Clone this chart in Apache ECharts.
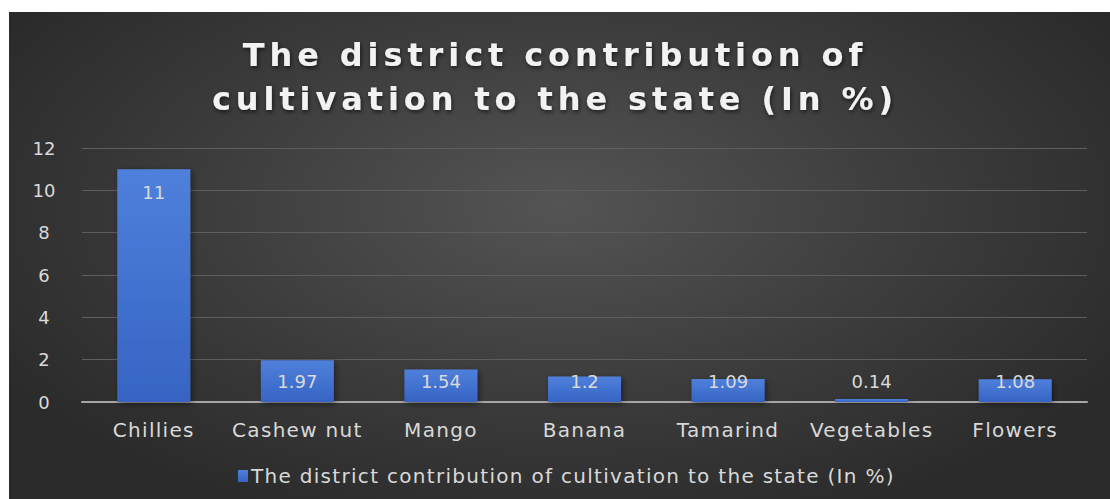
<!DOCTYPE html>
<html>
<head>
<meta charset="utf-8">
<script src="https://cdn.jsdelivr.net/npm/echarts@6/dist/echarts.min.js"></script>
<style>
html,body{margin:0;padding:0;background:#fff;width:1110px;height:499px;overflow:hidden;}
#bg{position:absolute;left:9px;top:12px;width:1101px;height:487px;
background:radial-gradient(ellipse 60% 70% at 50% 40%, #545454 0%, #3c3c3c 55%, #2a2a2a 100%);}
#chart{position:absolute;left:0;top:0;width:1110px;height:499px;}
#chart text[style*="32px"]{letter-spacing:4.9px;}
#chart text[style*="20px"]{letter-spacing:1.3px;}
</style>
</head>
<body>
<div id="bg"></div>
<div id="chart"></div>
<script>
const titleLines = ["The district contribution of", "cultivation to the state (In %)"];
const seriesName = "The district contribution of cultivation to the state (In %)";
const categories = ["Chillies", "Cashew nut", "Mango", "Banana", "Tamarind", "Vegetables", "Flowers"];
const values = [11, 1.97, 1.54, 1.2, 1.09, 0.14, 1.08];
const yTicks = [0, 2, 4, 6, 8, 10, 12];

const chart = echarts.init(document.getElementById('chart'), null, {renderer: 'svg'});
const labelColor = '#d9d9d9';
const fontFam = '"DejaVu Sans", "Open Sans", sans-serif';

const data = values.map(v => ({
  value: v,
  label: v > 3
    ? {position: 'insideTop', distance: 14}
    : {position: 'insideBottom', distance: 12}
}));

chart.setOption({
  backgroundColor: 'transparent',
  title: {
    text: titleLines.join('\n'),
    left: 'center',
    top: 33,
    padding: 0,
    textStyle: {
      color: '#f2f2f2', fontSize: 32, fontWeight: 'bold', fontFamily: fontFam,
      lineHeight: 44,
      textShadowColor: 'rgba(0,0,0,0.6)', textShadowBlur: 4, textShadowOffsetX: 1, textShadowOffsetY: 2
    }
  },
  legend: {
    top: 461,
    left: 233,
    itemWidth: 10, itemHeight: 12,
    icon: 'rect',
    itemGap: 4,
    textStyle: {color: labelColor, fontSize: 20, fontFamily: fontFam, padding: [0,0,0,-2]},
    data: [seriesName]
  },
  grid: {left: 82, right: 23, top: 148, bottom: 97},
  xAxis: {
    type: 'category',
    data: categories,
    axisLine: {lineStyle: {color: '#a6a6a6', width: 2}},
    axisTick: {show: false},
    axisLabel: {interval: 0, color: labelColor, fontSize: 20, fontFamily: fontFam, margin: 18}
  },
  yAxis: {
    type: 'value',
    min: yTicks[0], max: yTicks[yTicks.length - 1], interval: 2,
    axisLine: {show: false},
    axisTick: {show: false},
    splitLine: {lineStyle: {color: '#5e5e5e', width: 1}},
    axisLabel: {color: labelColor, fontSize: 18, fontFamily: fontFam, margin: 38, align: 'center'}
  },
  series: [{
    name: seriesName,
    type: 'bar',
    data: data,
    barWidth: 73,
    itemStyle: {
      color: new echarts.graphic.LinearGradient(0, 0, 0, 1, [
        {offset: 0, color: '#4f80db'},
        {offset: 1, color: '#3764c4'}
      ]),
      shadowColor: 'rgba(0,0,0,0.45)', shadowBlur: 6, shadowOffsetX: 2, shadowOffsetY: 2
    },
    label: {
      show: true,
      color: labelColor, fontSize: 18, fontFamily: fontFam
    }
  }]
});
</script>
</body>
</html>
